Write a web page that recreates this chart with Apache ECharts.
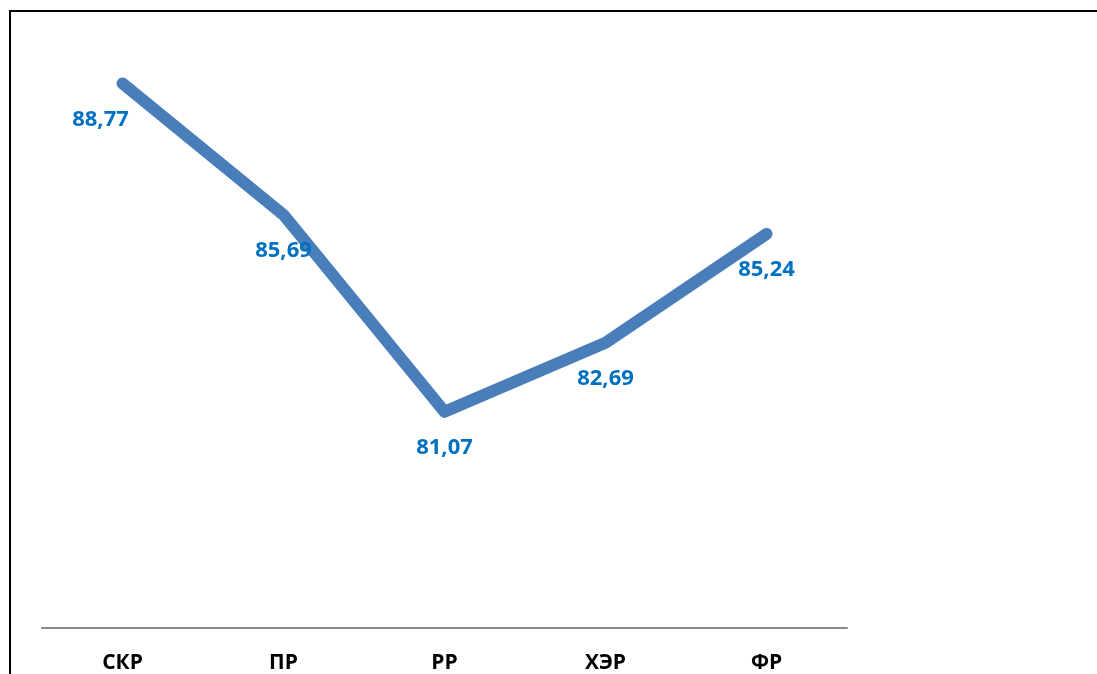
<!DOCTYPE html>
<html>
<head>
<meta charset="utf-8">
<script src="https://cdn.jsdelivr.net/npm/echarts@6/dist/echarts.min.js"></script>
<style>
html,body{margin:0;padding:0;background:#fff;}
#c{width:1097px;height:674px;}
</style>
</head>
<body>
<div id="c"></div>
<script>
const categories = ['СКР', 'ПР', 'РР', 'ХЭР', 'ФР'];
const values = [88.77, 85.69, 81.07, 82.69, 85.24];
const yMin = 76;
const yMax = 90;

const chart = echarts.init(document.getElementById('c'));
const seriesData = values.map((v, i) => {
  const d = { value: v };
  if (i === 0) d.label = { offset: [-22, 0] };
  return d;
});
chart.setOption({
  animation: false,
  backgroundColor: '#ffffff',
  graphic: [{
    type: 'rect',
    shape: { x: 10, y: 11, width: 1200, height: 800 },
    style: { fill: 'none', stroke: '#000', lineWidth: 2 },
    silent: true
  }],
  grid: { left: 42, right: 250, top: 31, bottom: 45 },
  xAxis: {
    type: 'category',
    data: categories,
    boundaryGap: true,
    axisLine: { lineStyle: { color: '#898989', width: 2 } },
    axisTick: { show: false },
    axisLabel: {
      color: '#000', fontWeight: 'bold', fontSize: 21,
      fontFamily: 'Open Sans', margin: 25
    }
  },
  yAxis: {
    type: 'value', min: yMin, max: yMax,
    show: false,
    splitLine: { show: false }
  },
  series: [{
    type: 'line',
    data: seriesData,
    symbol: 'circle',
    symbolSize: 2,
    showSymbol: true,
    showAllSymbol: true,
    lineStyle: { color: '#4A7EBB', width: 12, cap: 'round', join: 'round' },
    itemStyle: { color: 'rgba(0,0,0,0)', borderWidth: 0 },
    label: {
      show: true,
      position: 'bottom',
      distance: 24,
      color: '#0070C0',
      fontWeight: 'bold',
      fontSize: 22,
      fontFamily: 'Open Sans',
      formatter: p => p.value.toFixed(2).replace('.', ',')
    }
  }]
});
</script>
</body>
</html>
